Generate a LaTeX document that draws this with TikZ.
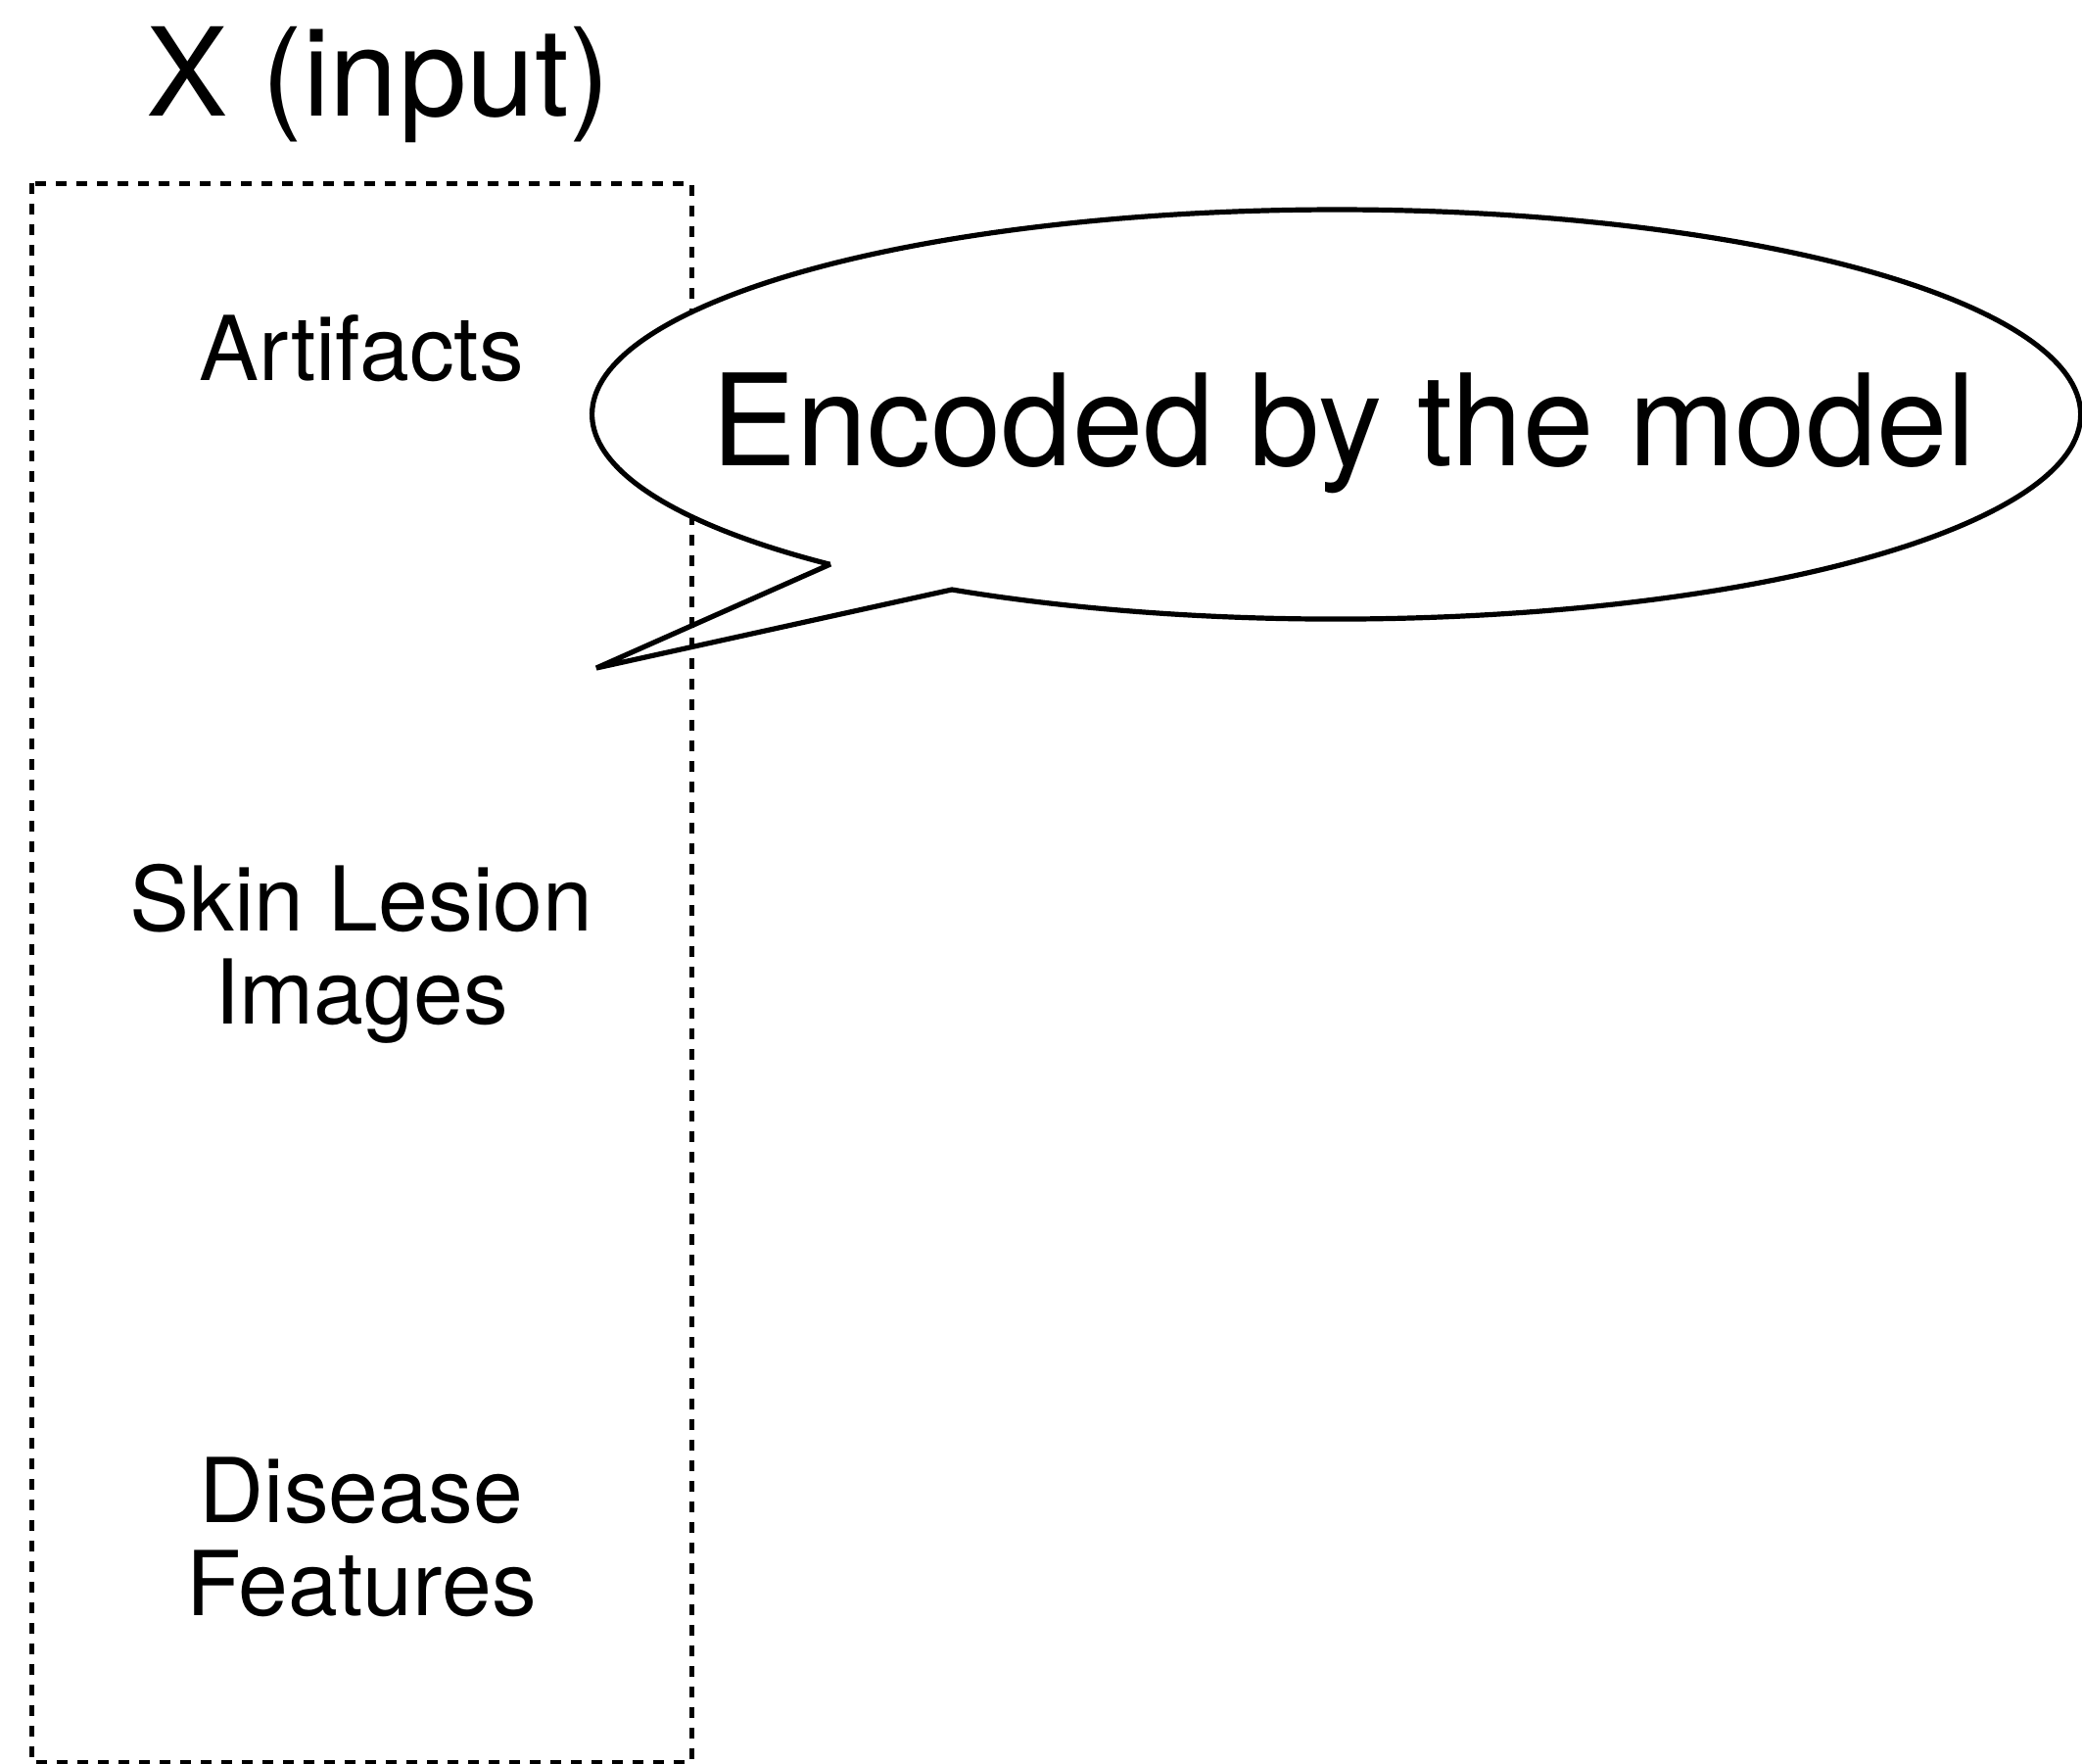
\documentclass[tikz,border=0pt]{standalone}
\usepackage{fontspec}
\setmainfont{TeX Gyre Heros}
\begin{document}
\begin{tikzpicture}[
  inputbox/.style={draw=black, line width=0.05cm, dash pattern=on 0.11cm off 0.10cm},
  calloutline/.style={draw=black, line width=0.052cm, line join=miter, miter limit=7},
  titletext/.style={inner sep=0pt, anchor=base, font=\fontsize{35.6}{42}\selectfont},
  bigtext/.style={inner sep=0pt, anchor=base, font=\fontsize{37}{44}\selectfont},
  itemtext/.style={inner sep=0pt, anchor=base, align=center, font=\fontsize{26}{27}\selectfont}
]
\useasboundingbox (0,0) rectangle (21.26,-18.01);

% dashed frame around the inputs
\draw[inputbox] (0.32,-1.87) rectangle (7.06,-17.99);

% title
\node[titletext] (title) at (3.86,-1.18) {X (input)};

% the three kinds of input (base anchor sits on the last line)
\node[itemtext] (artifacts) at (3.69,-3.88) {Artifacts};
\node[itemtext] (lesion) at (3.69,-10.45) {Skin Lesion\\Images};
\node[itemtext] (disease) at (3.69,-16.49) {Disease\\Features};

% speech bubble: white body hides the frame, then the outline with its tail
\fill[white] (13.65,-4.23) ellipse[x radius=7.60, y radius=2.09];
\draw[calloutline] (8.48,-5.76) -- (6.09,-6.82) -- (9.72,-6.02)
  arc[start angle=238.9, end angle=587.1, x radius=7.60, y radius=2.09] -- cycle;
\node[bigtext] (encoded) at (13.72,-4.75) {Encoded by the model};
\end{tikzpicture}
\end{document}
